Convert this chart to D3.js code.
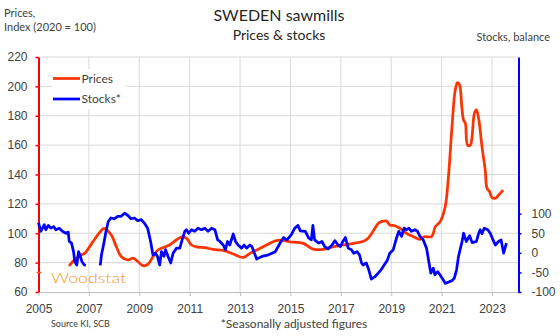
<!DOCTYPE html>
<html>
<head>
<meta charset="utf-8">
<script src="https://cdn.jsdelivr.net/npm/d3@7"></script>
<style>
  body { margin: 0; background: #fff; }
  svg { display: block; font-family: Lato, "Open Sans", sans-serif; }
  .axis text { fill: #404040; font-size: 12px; }
</style>
</head>
<body>
<svg id="chart" width="560" height="336"></svg>
<script>
// sawmill prices, index 2020 = 100 -> [decimal year, value]
const prices = [
  [2006.21, 77.8], [2006.42, 81.8], [2006.68, 85.2], [2006.83, 86.3], [2007.16, 94.3],
  [2007.43, 100.6], [2007.6, 103.4], [2007.89, 98.8], [2008.09, 90.8], [2008.29, 84],
  [2008.55, 81.8], [2008.75, 83], [2008.95, 80.6], [2009.15, 77.9], [2009.35, 79],
  [2009.54, 84], [2009.74, 88.6], [2009.94, 90.2], [2010.2, 92], [2010.47, 95.4],
  [2010.67, 97.4], [2010.87, 96.6], [2011.07, 92], [2011.33, 90.5], [2011.6, 90.2],
  [2011.93, 89], [2012.33, 88.3], [2012.73, 85.9], [2013.12, 83.5], [2013.39, 86.3],
  [2013.66, 88.6], [2014.05, 92], [2014.38, 94.7], [2014.58, 95.4], [2014.98, 94.2],
  [2015.51, 93.1], [2015.9, 89.2], [2016.3, 89], [2016.7, 90.8], [2017.1, 92],
  [2017.5, 93.1], [2017.9, 94.5], [2018.08, 96.6], [2018.23, 100], [2018.35, 103.4],
  [2018.49, 106.8], [2018.61, 107.9], [2018.81, 108.3], [2018.94, 105.6], [2019.14, 105.1],
  [2019.34, 103.4], [2019.6, 100], [2019.87, 97.7], [2020.14, 95.9], [2020.33, 97.7],
  [2020.6, 97.7], [2020.75, 104.5], [2020.94, 107.9], [2021.14, 118], [2021.27, 138.5],
  [2021.41, 172.5], [2021.54, 197.5], [2021.63, 202.5], [2021.71, 201], [2021.8, 186],
  [2021.87, 177], [2021.94, 175], [2022.03, 160], [2022.14, 160], [2022.2, 164.6],
  [2022.3, 181.6], [2022.38, 184], [2022.47, 178], [2022.6, 159], [2022.73, 143],
  [2022.8, 130.6], [2022.9, 128.3], [2023.0, 124.2], [2023.13, 123.8], [2023.26, 126],
  [2023.44, 129.4]
];

// stocks balance (seasonally adjusted), null = no data in early 2007
const stocks = [
  [2005.0, 77], [2005.09, 55], [2005.16, 63], [2005.23, 72], [2005.29, 59], [2005.39, 70],
  [2005.49, 63], [2005.6, 67], [2005.69, 59], [2005.82, 63], [2005.95, 55], [2006.09, 50],
  [2006.18, 53], [2006.22, 29], [2006.31, 25], [2006.39, 3], [2006.44, -22], [2006.52, -31],
  [2006.59, 3], [2006.66, -9], [2006.72, -22], [2006.82, -31], [2006.88, -32],
  [2007.1, null],
  [2007.45, -32], [2007.5, -5], [2007.58, 20], [2007.68, 55], [2007.77, 80], [2007.87, 89],
  [2008.01, 87], [2008.14, 93], [2008.27, 93], [2008.42, 101], [2008.54, 96], [2008.67, 87],
  [2008.81, 89], [2008.94, 82], [2009.07, 85], [2009.2, 76], [2009.33, 63], [2009.45, 29],
  [2009.54, -5], [2009.64, -1], [2009.72, -9], [2009.81, -31], [2009.88, 3], [2009.98, -9],
  [2010.04, 8], [2010.14, -9], [2010.25, -26], [2010.34, -1], [2010.48, 12], [2010.61, 12],
  [2010.7, 33], [2010.81, 55], [2010.87, 59], [2010.96, 50], [2011.07, 59], [2011.2, 55],
  [2011.33, 63], [2011.47, 59], [2011.6, 63], [2011.73, 55], [2011.87, 63], [2012.0, 59],
  [2012.11, 33], [2012.2, 29], [2012.33, 20], [2012.42, 8], [2012.5, 29], [2012.59, 20],
  [2012.73, 48], [2012.82, 29], [2012.92, 20], [2013.06, 12], [2013.16, 20], [2013.26, 12],
  [2013.39, 20], [2013.47, 16], [2013.66, -16], [2013.87, -9], [2014.13, -5], [2014.4, 3],
  [2014.59, 25], [2014.73, 39], [2014.86, 33], [2015.03, 46], [2015.17, 63], [2015.3, 70],
  [2015.39, 56], [2015.59, 55], [2015.72, 38], [2015.83, 33], [2015.89, 70], [2015.96, 33],
  [2016.12, 25], [2016.25, 29], [2016.36, 16], [2016.49, 10], [2016.65, 20], [2016.76, 31],
  [2016.89, 20], [2016.98, 16], [2017.08, 29], [2017.18, 39], [2017.29, 12], [2017.42, 8],
  [2017.51, -1], [2017.64, 3], [2017.74, -5], [2017.82, -26], [2017.88, -31], [2018.01, -26],
  [2018.11, -44], [2018.21, -67], [2018.35, -61], [2018.48, -52], [2018.59, -44], [2018.68, -35],
  [2018.85, -18], [2018.94, -1], [2019.08, 8], [2019.21, 38], [2019.3, 55], [2019.41, 42],
  [2019.51, 63], [2019.6, 59], [2019.7, 63], [2019.8, 55], [2019.94, 59], [2020.04, 55],
  [2020.14, 42], [2020.27, 33], [2020.4, 12], [2020.49, -22], [2020.57, -52], [2020.67, -39],
  [2020.73, -56], [2020.84, -48], [2020.93, -56], [2021.06, -69], [2021.15, -78], [2021.26, -75],
  [2021.41, -71], [2021.5, -65], [2021.59, -44], [2021.67, -9], [2021.81, 29], [2021.87, 50],
  [2021.98, 29], [2022.11, 44], [2022.21, 26], [2022.38, 29], [2022.47, 50], [2022.53, 59],
  [2022.6, 49], [2022.69, 63], [2022.83, 59], [2022.93, 50], [2023.04, 33], [2023.13, 20],
  [2023.26, 29], [2023.36, 33], [2023.46, -1], [2023.57, 25]
];

const yearTicks = [2005, 2007, 2009, 2011, 2013, 2015, 2017, 2019, 2021, 2023];
const priceTicks = [60, 80, 100, 120, 140, 160, 180, 200, 220];
const stockTicks = [-100, -50, 0, 50, 100];

const RED = "#ff3300";
const BLUE = "#0000ff";
const GRID = "#d9d9d9";
const TEXT = "#404040";

const svg = d3.select("#chart");

const x = d3.scaleLinear().domain([2005, 2024.05]).range([38.5, 518.5]);
const yL = d3.scaleLinear().domain([60, 220]).range([292, 57]);
const yR = d3.scaleLinear().domain([-100, 500]).range([292, 57]);

// gridlines
const grid = svg.append("g");
grid.selectAll("line.h")
  .data(priceTicks.slice(1))
  .join("line")
  .attr("x1", x.range()[0]).attr("x2", x.range()[1])
  .attr("y1", d => yL(d)).attr("y2", d => yL(d))
  .attr("stroke", GRID).attr("stroke-width", 1);
grid.selectAll("line.v")
  .data(yearTicks.slice(1))
  .join("line")
  .attr("x1", d => x(d)).attr("x2", d => x(d))
  .attr("y1", yL.range()[1]).attr("y2", yL.range()[0])
  .attr("stroke", GRID).attr("stroke-width", 1);

// x axis
const xAxis = svg.append("g")
  .attr("class", "axis")
  .attr("transform", "translate(0," + yL.range()[0] + ")")
  .call(d3.axisBottom(x).tickValues(yearTicks).tickFormat(d3.format("d"))
    .tickSize(4).tickSizeOuter(0).tickPadding(8));
xAxis.select(".domain").attr("stroke", "#bfbfbf");
xAxis.selectAll(".tick line").attr("stroke", "#bfbfbf");

// left axis (prices)
const leftAxis = svg.append("g")
  .attr("class", "axis")
  .attr("transform", "translate(" + x.range()[0] + ",0)")
  .call(d3.axisLeft(yL).tickValues(priceTicks).tickSize(3).tickSizeOuter(0).tickPadding(8));
leftAxis.select(".domain").attr("stroke", "#ff0000").attr("stroke-width", 2);
leftAxis.selectAll(".tick line").attr("stroke", "#ff0000").attr("stroke-width", 1.5);

// right axis (stocks)
const rightAxis = svg.append("g")
  .attr("class", "axis")
  .attr("transform", "translate(" + x.range()[1] + ",0)")
  .call(d3.axisRight(yR).tickValues(stockTicks).tickFormat(d => String(d))
    .tickSize(3).tickSizeOuter(0).tickPadding(10));
rightAxis.select(".domain").attr("stroke", BLUE).attr("stroke-width", 2);
rightAxis.selectAll(".tick line").attr("stroke", BLUE).attr("stroke-width", 1.5);

// series
const priceLine = d3.line()
  .x(d => x(d[0]))
  .y(d => yL(d[1]))
  .curve(d3.curveCatmullRom.alpha(0.5));

const stockLine = d3.line()
  .defined(d => d[1] != null)
  .x(d => x(d[0]))
  .y(d => yR(d[1]));

svg.append("path")
  .datum(prices)
  .attr("fill", "none")
  .attr("stroke", RED)
  .attr("stroke-width", 2.75)
  .attr("stroke-linejoin", "round")
  .attr("d", priceLine);

svg.append("path")
  .datum(stocks)
  .attr("fill", "none")
  .attr("stroke", BLUE)
  .attr("stroke-width", 2.75)
  .attr("stroke-linejoin", "round")
  .attr("d", stockLine);

// legend
const legend = svg.append("g");
legend.append("rect")
  .attr("x", 52).attr("y", 69).attr("width", 74).attr("height", 40)
  .attr("fill", "#fff");
[["Prices", RED, 78.5], ["Stocks*", BLUE, 99]].forEach(([label, color, ly]) => {
  legend.append("line")
    .attr("x1", 53).attr("x2", 80).attr("y1", ly).attr("y2", ly)
    .attr("stroke", color).attr("stroke-width", 2.75);
  legend.append("text")
    .attr("x", 81.5).attr("y", ly + 4)
    .attr("fill", TEXT).attr("font-size", "12px")
    .text(label);
});

// titles
svg.append("text")
  .attr("x", 279).attr("y", 21)
  .attr("text-anchor", "middle")
  .attr("fill", "#262626").attr("font-size", "16px")
  .text("SWEDEN sawmills");
svg.append("text")
  .attr("x", 279).attr("y", 40)
  .attr("text-anchor", "middle")
  .attr("fill", "#262626").attr("font-size", "14px")
  .text("Prices & stocks");

svg.append("text")
  .attr("x", 4).attr("y", 17)
  .attr("fill", TEXT).attr("font-size", "11px")
  .text("Prices,");
svg.append("text")
  .attr("x", 4).attr("y", 31)
  .attr("fill", TEXT).attr("font-size", "11px")
  .text("Index (2020 = 100)");
svg.append("text")
  .attr("x", 550).attr("y", 41)
  .attr("text-anchor", "end")
  .attr("fill", TEXT).attr("font-size", "11px")
  .text("Stocks, balance");

// footer
svg.append("text")
  .attr("x", 51).attr("y", 327)
  .attr("fill", TEXT).attr("font-size", "9px")
  .text("Source KI, SCB");
svg.append("text")
  .attr("x", 294).attr("y", 328)
  .attr("text-anchor", "middle")
  .attr("fill", TEXT).attr("font-size", "12px")
  .text("*Seasonally adjusted figures");

// logo
svg.append("line")
  .attr("x1", 36.5).attr("x2", 41.5).attr("y1", 272.5).attr("y2", 272.5)
  .attr("stroke", "#ff5a1f").attr("stroke-width", 1.5);
svg.append("text")
  .attr("x", 51).attr("y", 282.5)
  .attr("fill", "#f7941d").attr("font-size", "13px")
  .attr("font-weight", 300)
  .attr("textLength", 75).attr("lengthAdjust", "spacingAndGlyphs")
  .text("Woodstat");
</script>
</body>
</html>
